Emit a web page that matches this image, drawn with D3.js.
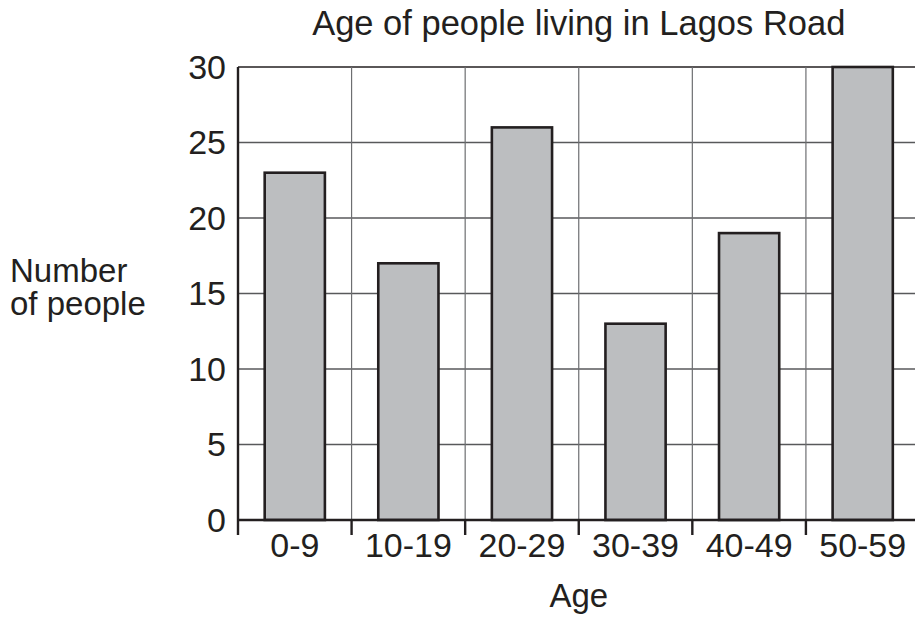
<!DOCTYPE html>
<html>
<head>
<meta charset="utf-8">
<script src="https://cdn.jsdelivr.net/npm/d3@7"></script>
<style>
  body { margin: 0; background: #fff; }
  text { font-family: "Liberation Sans", Arial, sans-serif; fill: #231f20; }
</style>
</head>
<body>
<script>
// data
var ageGroups = ["0-9", "10-19", "20-29", "30-39", "40-49", "50-59"];
var people = [23, 17, 26, 13, 19, 30];
var yTicks = [0, 5, 10, 15, 20, 25, 30];

var width = 915, height = 624;
var plotLeft = 238, plotRight = 919.5, plotTop = 67, plotBottom = 520;

var svg = d3.select("body").append("svg")
    .attr("width", width)
    .attr("height", height);

// one cell per age group, bars sit in the middle of each cell
var cell = d3.scaleBand().domain(ageGroups).range([plotLeft, plotRight]).padding(0);
var x = d3.scaleBand().domain(ageGroups).range([plotLeft, plotRight])
    .paddingInner(0.47).paddingOuter(0.235);
var y = d3.scaleLinear().domain([0, 30]).range([plotBottom, plotTop]);

// grid
var grid = svg.append("g");
grid.selectAll("line.h")
  .data(yTicks.filter(d => d > 0))
  .enter().append("line")
    .attr("class", "h")
    .attr("x1", plotLeft).attr("x2", width)
    .attr("y1", d => y(d)).attr("y2", d => y(d))
    .attr("stroke", d => d == 30 ? "#231f20" : "#58595b")
    .attr("stroke-width", 1.3);

grid.selectAll("line.v")
  .data(ageGroups)
  .enter().append("line")
    .attr("class", "v")
    .attr("x1", d => cell(d) + cell.step())
    .attr("x2", d => cell(d) + cell.step())
    .attr("y1", plotTop).attr("y2", plotBottom)
    .attr("stroke", "#6d6e71")
    .attr("stroke-width", 1.2);

// bars
svg.selectAll("rect.bar")
  .data(people)
  .enter().append("rect")
    .attr("class", "bar")
    .attr("x", (d, i) => x(ageGroups[i]))
    .attr("y", d => y(d))
    .attr("width", x.bandwidth())
    .attr("height", d => plotBottom - y(d))
    .attr("fill", "#bcbec0")
    .attr("stroke", "#231f20")
    .attr("stroke-width", 2.6);

// axes
svg.append("line")
    .attr("x1", plotLeft).attr("x2", plotLeft)
    .attr("y1", plotTop).attr("y2", plotBottom + 15)
    .attr("stroke", "#231f20").attr("stroke-width", 2.4);
svg.append("line")
    .attr("x1", plotLeft).attr("x2", width)
    .attr("y1", plotBottom).attr("y2", plotBottom)
    .attr("stroke", "#231f20").attr("stroke-width", 2.4);

svg.selectAll("line.xtick")
  .data(ageGroups)
  .enter().append("line")
    .attr("class", "xtick")
    .attr("x1", d => cell(d) + cell.step())
    .attr("x2", d => cell(d) + cell.step())
    .attr("y1", plotBottom).attr("y2", plotBottom + 15)
    .attr("stroke", "#231f20").attr("stroke-width", 2.4);

// tick labels
svg.selectAll("text.ylab")
  .data(yTicks)
  .enter().append("text")
    .attr("class", "ylab")
    .attr("x", plotLeft - 12)
    .attr("y", d => y(d))
    .attr("dy", "0.35em")
    .attr("text-anchor", "end")
    .style("font-size", "34px")
    .text(d => d);

svg.selectAll("text.xlab")
  .data(ageGroups)
  .enter().append("text")
    .attr("class", "xlab")
    .attr("x", d => cell(d) + cell.bandwidth() / 2)
    .attr("y", 557)
    .attr("text-anchor", "middle")
    .style("font-size", "34px")
    .text(d => d);

// titles
svg.append("text")
    .attr("x", (plotLeft + plotRight) / 2)
    .attr("y", 35)
    .attr("text-anchor", "middle")
    .style("font-size", "34.5px")
    .text("Age of people living in Lagos Road");

svg.append("text")
    .attr("x", (plotLeft + plotRight) / 2)
    .attr("y", 607)
    .attr("text-anchor", "middle")
    .style("font-size", "33px")
    .text("Age");

var yTitle = svg.append("text")
    .attr("x", 10)
    .attr("y", 282)
    .style("font-size", "33px");
yTitle.append("tspan").attr("x", 10).text("Number");
yTitle.append("tspan").attr("x", 10).attr("y", 315).text("of people");
</script>
</body>
</html>
